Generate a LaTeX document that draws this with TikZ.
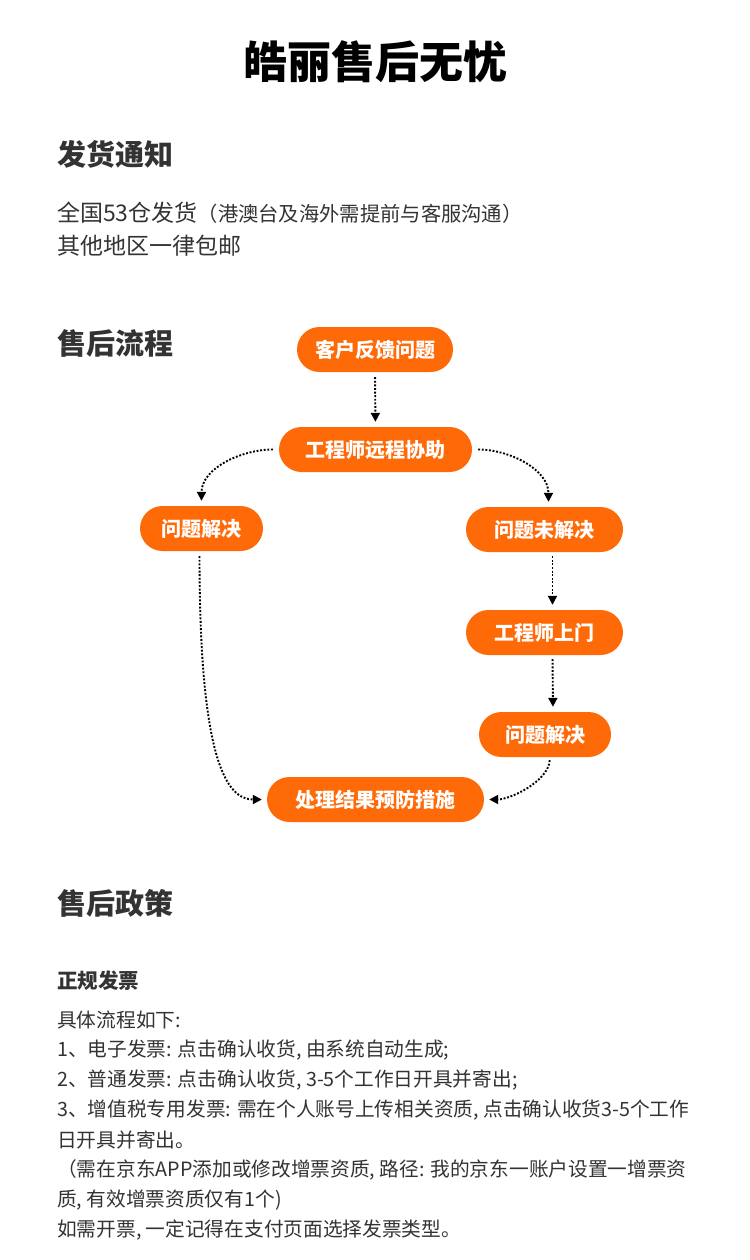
\documentclass[tikz,border=0pt]{standalone}
\usepackage{fontspec}
\setmainfont{Noto Sans CJK SC}
\usetikzlibrary{arrows.meta}
\definecolor{brand}{HTML}{FF6A08}
\definecolor{txt}{HTML}{333333}
\begin{document}
\begin{tikzpicture}[x=1bp,y=-1bp,
  pill/.style={fill=brand, text=white, rounded corners=22.5bp, minimum height=45bp,
    inner sep=0pt, font=\fontsize{20bp}{20bp}\selectfont\bfseries},
  flow/.style={line width=1.9bp, dash pattern=on 1.9bp off 1.7bp,
    -{Triangle[length=9bp,width=9bp]}, shorten >=5bp, shorten <=5bp},
  head/.style={anchor=west, inner sep=0pt, text=txt, font=\fontsize{29bp}{29bp}\selectfont\bfseries},
  body/.style={anchor=west, inner sep=0pt, text=txt, font=\fontsize{19.7bp}{19.7bp}\selectfont},
]
\fill[white] (0,0) rectangle (750,1260);
\path[use as bounding box] (0,0) rectangle (750,1260);

% title and shipping notes
\node[inner sep=0pt, text=black, font=\fontsize{44bp}{44bp}\selectfont\bfseries] (title) at (375,62) {皓丽售后无忧};
\node[head] (h1) at (57,154) {发货通知};
\node[body, font=\fontsize{23bp}{23bp}\selectfont] (ship1) at (57,213) {全国53仓发货{\fontsize{20.3bp}{20.3bp}\selectfont（港澳台及海外需提前与客服沟通）}};
\node[body, font=\fontsize{23bp}{23bp}\selectfont] (ship2) at (57,246) {其他地区一律包邮};

% flow
\node[head] (h2) at (57,343) {售后流程};
\node[pill, minimum width=156bp] (c1) at (375,349.5) {客户反馈问题};
\node[pill, minimum width=193bp] (c2) at (375.5,449.5) {工程师远程协助};
\node[pill, minimum width=123bp] (c3) at (201.5,528.5) {问题解决};
\node[pill, minimum width=157bp] (c4) at (544.5,529.5) {问题未解决};
\node[pill, minimum width=157bp] (c5) at (544.5,632.5) {工程师上门};
\node[pill, minimum width=132bp] (c6) at (545,734.5) {问题解决};
\node[pill, minimum width=217bp] (c7) at (375.5,799.5) {处理结果预防措施};

\draw[flow] (c1.south) -- (c2.north);
\draw[flow, shorten <=6bp] (c2.west) to[out=180,in=90] (c3.north);
\draw[flow, shorten <=6bp] (c2.east) to[out=0,in=90] ([xshift=4bp]c4.north);
\draw[flow, shorten <=4bp] ([xshift=8bp]c4.south) -- ([xshift=8bp]c5.north);
\draw[flow, shorten <=4bp] ([xshift=8bp]c5.south) -- ([xshift=8bp]c6.north);
\draw[flow] ([xshift=-2bp]c3.south) .. controls ([xshift=-2bp,yshift=-210bp]c3.south) and ([xshift=-40bp]c7.west) .. (c7.west);
\draw[flow, shorten <=3bp] ([xshift=5bp]c6.south) .. controls ([xshift=3bp,yshift=-25bp]c6.south) and ([xshift=25bp]c7.east) .. (c7.east);

% policy
\node[head] (h3) at (57,903) {售后政策};
\node[body, font=\fontsize{20.5bp}{20.5bp}\selectfont\bfseries] (inv) at (57,981) {正规发票};
\node[body] (b1) at (57,1020) {具体流程如下:};
\node[body] (b2) at (57,1050) {1、电子发票: 点击确认收货, 由系统自动生成;};
\node[body] (b3) at (57,1080) {2、普通发票: 点击确认收货, 3-5个工作日开具并寄出;};
\node[body] (b4) at (57,1110) {3、增值税专用发票: 需在个人账号上传相关资质, 点击确认收货3-5个工作};
\node[body] (b5) at (57,1140) {日开具并寄出。};
\node[body] (b6) at (57,1170) {（需在京东APP添加或修改增票资质, 路径: 我的京东一账户设置一增票资};
\node[body] (b7) at (57,1200) {质, 有效增票资质仅有1个)};
\node[body] (b8) at (57,1230) {如需开票, 一定记得在支付页面选择发票类型。};
\end{tikzpicture}
\end{document}
